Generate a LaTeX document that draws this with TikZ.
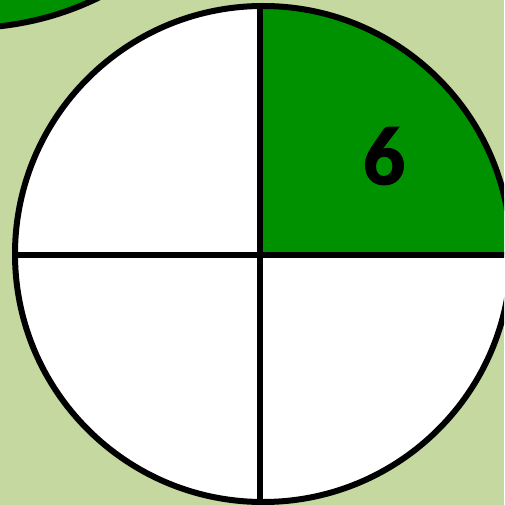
\documentclass[tikz,border=0pt]{standalone}
\usepackage{fontspec}
\setmainfont{Carlito}
\newfontfamily\digitfont{Carlito}[UprightFont={* Bold}, FakeBold=1.2]
\usepackage{xcolor}
\usetikzlibrary{positioning}
\definecolor{paper}{RGB}{197,216,160}
\definecolor{leafgreen}{RGB}{0,145,0}

\begin{document}
\begin{tikzpicture}[
    x=1pt, y=-1pt,
    rim/.style={draw=black, line width=6pt},
    slice/.style={line width=6pt, draw=black},
    digit/.style={font=\digitfont\fontsize{84}{84}\selectfont, text=black, inner sep=0pt},
]
    \useasboundingbox (0,0) rectangle (504,505);
    \clip (0,0) rectangle (504,505);
    \fill[paper] (0,0) rectangle (504,505);

    % neighbouring disc in the corner
    \fill[leafgreen, rim] (-33,-272) circle[radius=300];

    % the disc
    \coordinate (centre) at (263,254);
    \coordinate (hub) at (260,255);
    \fill[white] (centre) circle[radius=248];
    \begin{scope}
        \clip (centre) circle[radius=248];
        \fill[leafgreen] (hub) rectangle (520,0);
        \draw[slice] (0,255) -- (520,255);
        \draw[slice] (260,0) -- (260,520);
    \end{scope}
    \draw[rim] (centre) circle[radius=248];

    \node[digit] (six) at (384,156) {6};
\end{tikzpicture}
\end{document}
